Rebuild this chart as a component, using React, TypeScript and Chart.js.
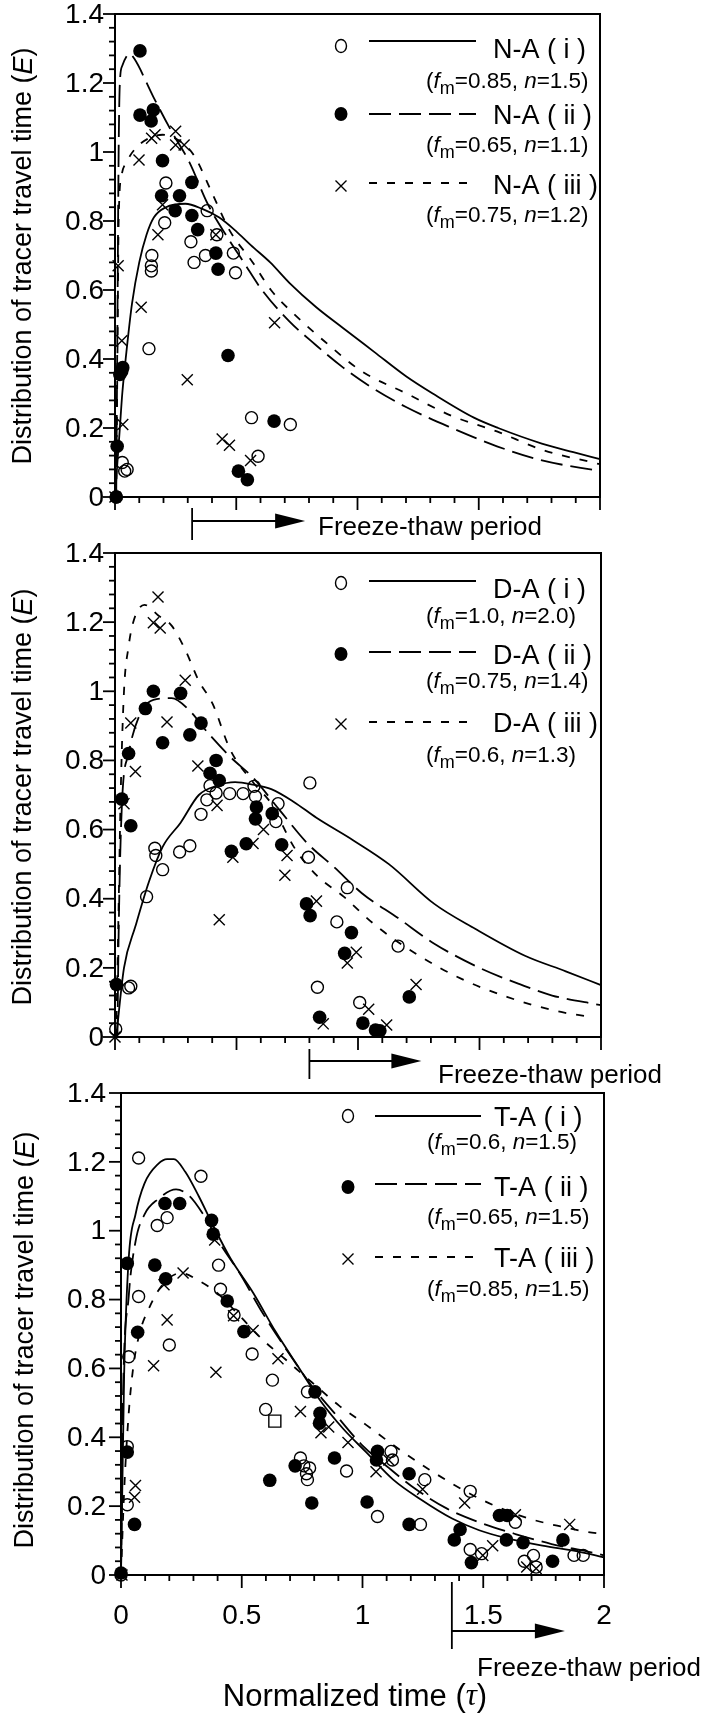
import React, { useEffect, useRef } from 'react';
import { Chart, registerables } from 'chart.js';

Chart.register(...registerables);

const SANS = '"Liberation Sans", Arial, Helvetica, sans-serif';
const SERIF = '"Liberation Serif", "DejaVu Serif", serif';

type Pt = [number, number];

// ---------- tick labels ----------
const yTickValues = [0, 0.2, 0.4, 0.6, 0.8, 1.0, 1.2, 1.4];
const yTickLabels = ['0', '0.2', '0.4', '0.6', '0.8', '1', '1.2', '1.4'];
const xTickValues = [0, 0.5, 1, 1.5, 2];
const xTickLabels = ['0', '0.5', '1', '1.5', '2'];

// ---------- series names / parameters ----------
const naNames = ['N-A ( i )', 'N-A ( ii )', 'N-A ( iii )'];
const naParams = [['0.85', '1.5'], ['0.65', '1.1'], ['0.75', '1.2']];
const daNames = ['D-A ( i )', 'D-A ( ii )', 'D-A ( iii )'];
const daParams = [['1.0', '2.0'], ['0.75', '1.4'], ['0.6', '1.3']];
const taNames = ['T-A ( i )', 'T-A ( ii )', 'T-A ( iii )'];
const taParams = [['0.6', '1.5'], ['0.65', '1.5'], ['0.85', '1.5']];
const freezeStartTau = [0.318, 0.8, 1.37];

// ---------- N-A ----------
const na1Curve: Pt[] = [[0, 0], [0.01, 0.1], [0.02, 0.2], [0.03, 0.3], [0.047, 0.42], [0.07, 0.56], [0.1, 0.68], [0.13, 0.76], [0.16, 0.81], [0.21, 0.84], [0.29, 0.85], [0.36, 0.835], [0.43, 0.81], [0.5, 0.77], [0.56, 0.73], [0.64, 0.68], [0.72, 0.62], [0.83, 0.55], [0.94, 0.49], [1.07, 0.42], [1.2, 0.35], [1.31, 0.3], [1.48, 0.23], [1.58, 0.2], [1.76, 0.155], [1.89, 0.13], [2.0, 0.11]];
const na2Curve: Pt[] = [[0.005, 0], [0.01, 0.5], [0.015, 1.0], [0.02, 1.2], [0.03, 1.25], [0.05, 1.28], [0.06, 1.285], [0.08, 1.27], [0.158, 1.16], [0.233, 1.06], [0.307, 0.97], [0.382, 0.85], [0.457, 0.76], [0.531, 0.68], [0.606, 0.6], [0.718, 0.51], [0.829, 0.44], [0.941, 0.375], [1.053, 0.32], [1.202, 0.26], [1.389, 0.2], [1.575, 0.147], [1.761, 0.106], [2.0, 0.075]];
const na3Curve: Pt[] = [[0.005, 0], [0.01, 0.4], [0.015, 0.8], [0.028, 0.935], [0.047, 0.97], [0.084, 1.01], [0.14, 1.04], [0.196, 1.05], [0.27, 1.03], [0.326, 0.99], [0.401, 0.88], [0.475, 0.77], [0.568, 0.68], [0.643, 0.6], [0.754, 0.52], [0.866, 0.45], [1.016, 0.365], [1.202, 0.3], [1.389, 0.235], [1.575, 0.19], [1.761, 0.137], [2.0, 0.095]];
const na1Obs: Pt[] = [[0.005, 0], [0.03, 0.1], [0.05, 0.08], [0.04, 0.075], [0.14, 0.43], [0.15, 0.655], [0.15, 0.67], [0.152, 0.7], [0.205, 0.795], [0.21, 0.91], [0.313, 0.74], [0.326, 0.68], [0.38, 0.83], [0.373, 0.7], [0.42, 0.76], [0.488, 0.707], [0.497, 0.65], [0.563, 0.23], [0.59, 0.118], [0.723, 0.21]];
const na2Obs: Pt[] = [[0.005, 0], [0.009, 0.147], [0.02, 0.355], [0.028, 0.365], [0.032, 0.375], [0.103, 1.293], [0.103, 1.107], [0.158, 1.122], [0.149, 1.09], [0.196, 0.975], [0.192, 0.873], [0.248, 0.83], [0.266, 0.873], [0.317, 0.912], [0.317, 0.816], [0.341, 0.775], [0.416, 0.707], [0.425, 0.66], [0.466, 0.41], [0.656, 0.22], [0.509, 0.075], [0.546, 0.05]];
const na3Obs: Pt[] = [[0, 0], [0.013, 0.67], [0.028, 0.453], [0.032, 0.21], [0.099, 0.977], [0.108, 0.55], [0.151, 1.04], [0.165, 1.05], [0.177, 0.76], [0.196, 0.847], [0.25, 1.06], [0.25, 1.02], [0.285, 1.02], [0.298, 0.34], [0.416, 0.76], [0.442, 0.168], [0.472, 0.15], [0.559, 0.106], [0.658, 0.505]];

// ---------- D-A ----------
const da1Curve: Pt[] = [[0.005, 0], [0.037, 0.2], [0.084, 0.32], [0.14, 0.45], [0.196, 0.55], [0.27, 0.62], [0.345, 0.7], [0.42, 0.727], [0.494, 0.737], [0.568, 0.73], [0.643, 0.717], [0.736, 0.68], [0.829, 0.634], [0.978, 0.57], [1.127, 0.5], [1.314, 0.385], [1.482, 0.313], [1.687, 0.235], [1.855, 0.19], [2.0, 0.15]];
const da2Curve: Pt[] = [[0.01, 0], [0.015, 0.3], [0.028, 0.665], [0.056, 0.82], [0.103, 0.934], [0.158, 0.975], [0.233, 0.98], [0.307, 0.944], [0.382, 0.88], [0.475, 0.81], [0.568, 0.75], [0.68, 0.654], [0.792, 0.56], [0.904, 0.49], [1.016, 0.416], [1.165, 0.344], [1.314, 0.27], [1.5, 0.2], [1.668, 0.152], [1.799, 0.12], [2.0, 0.092]];
const da3Curve: Pt[] = [[0.005, 0], [0.013, 0.3], [0.024, 0.72], [0.037, 1.0], [0.056, 1.13], [0.075, 1.2], [0.121, 1.25], [0.177, 1.22], [0.233, 1.19], [0.289, 1.12], [0.345, 1.03], [0.401, 0.965], [0.475, 0.83], [0.568, 0.737], [0.643, 0.675], [0.736, 0.55], [0.829, 0.468], [0.941, 0.406], [1.072, 0.323], [1.24, 0.24], [1.426, 0.168], [1.613, 0.116], [1.817, 0.075], [1.948, 0.059]];
const da1Obs: Pt[] = [[0.003, 0.023], [0.056, 0.142], [0.065, 0.147], [0.13, 0.406], [0.164, 0.546], [0.168, 0.525], [0.196, 0.484], [0.266, 0.535], [0.308, 0.553], [0.354, 0.644], [0.378, 0.686], [0.391, 0.727], [0.416, 0.706], [0.472, 0.704], [0.527, 0.704], [0.572, 0.725], [0.578, 0.696], [0.671, 0.675], [0.662, 0.623], [0.802, 0.735], [0.796, 0.52], [0.833, 0.144], [0.956, 0.432], [0.913, 0.333], [1.165, 0.263], [1.007, 0.1]];
const da2Obs: Pt[] = [[0.006, 0.152], [0.028, 0.688], [0.065, 0.611], [0.056, 0.82], [0.125, 0.95], [0.158, 1.0], [0.196, 0.851], [0.27, 0.994], [0.308, 0.874], [0.354, 0.908], [0.416, 0.8], [0.391, 0.763], [0.429, 0.742], [0.479, 0.537], [0.54, 0.559], [0.582, 0.665], [0.578, 0.631], [0.647, 0.646], [0.686, 0.556], [0.788, 0.385], [0.803, 0.351], [0.973, 0.302], [0.945, 0.242], [0.842, 0.057], [1.02, 0.04], [1.072, 0.02], [1.09, 0.018], [1.211, 0.116]];
const da3Obs: Pt[] = [[0, 0], [0.037, 0.675], [0.065, 0.908], [0.084, 0.768], [0.158, 1.198], [0.177, 1.273], [0.186, 1.183], [0.214, 0.911], [0.289, 1.032], [0.341, 0.784], [0.42, 0.67], [0.429, 0.339], [0.485, 0.52], [0.568, 0.56], [0.611, 0.6], [0.708, 0.525], [0.699, 0.468], [0.829, 0.393], [0.993, 0.245], [0.956, 0.214], [0.857, 0.038], [1.044, 0.08], [1.118, 0.035], [1.239, 0.152]];

// ---------- T-A ----------
const ta1Curve: Pt[] = [[0, 0], [0.013, 0.583], [0.032, 0.92], [0.06, 1.047], [0.097, 1.137], [0.154, 1.194], [0.191, 1.208], [0.219, 1.208], [0.266, 1.171], [0.322, 1.1], [0.378, 1.02], [0.453, 0.92], [0.547, 0.82], [0.64, 0.707], [0.734, 0.605], [0.828, 0.504], [0.921, 0.424], [1.015, 0.357], [1.127, 0.277], [1.24, 0.22], [1.371, 0.164], [1.483, 0.13], [1.596, 0.107], [1.745, 0.085], [1.895, 0.068], [2.0, 0.051]];
const ta2Curve: Pt[] = [[0, 0], [0.007, 0.47], [0.032, 0.81], [0.06, 0.968], [0.097, 1.047], [0.154, 1.092], [0.228, 1.12], [0.285, 1.1], [0.341, 1.047], [0.416, 0.956], [0.491, 0.877], [0.584, 0.764], [0.678, 0.662], [0.79, 0.549], [0.884, 0.47], [0.996, 0.379], [1.109, 0.311], [1.221, 0.249], [1.352, 0.192], [1.483, 0.153], [1.633, 0.119], [1.783, 0.09], [1.933, 0.068], [2.0, 0.057]];
const ta3Curve: Pt[] = [[0, 0], [0.013, 0.243], [0.032, 0.47], [0.051, 0.605], [0.079, 0.707], [0.116, 0.775], [0.172, 0.843], [0.247, 0.877], [0.322, 0.855], [0.397, 0.82], [0.491, 0.753], [0.584, 0.685], [0.678, 0.628], [0.79, 0.56], [0.903, 0.492], [1.015, 0.436], [1.146, 0.368], [1.277, 0.306], [1.427, 0.243], [1.558, 0.198], [1.689, 0.164], [1.82, 0.141], [1.933, 0.125], [2.0, 0.119]];
const ta1Obs: Pt[] = [[0, 0], [0.026, 0.204], [0.026, 0.373], [0.032, 0.634], [0.073, 0.809], [0.073, 1.211], [0.15, 1.015], [0.191, 1.038], [0.2, 0.668], [0.331, 1.158], [0.404, 0.9], [0.412, 0.83], [0.468, 0.755], [0.543, 0.642], [0.627, 0.566], [0.599, 0.481], [0.772, 0.532], [0.743, 0.34], [0.757, 0.317], [0.768, 0.294], [0.772, 0.277], [0.781, 0.311], [0.934, 0.302], [1.062, 0.17], [1.118, 0.359], [1.124, 0.334], [1.258, 0.277], [1.24, 0.147], [1.446, 0.243], [1.446, 0.074], [1.493, 0.062], [1.633, 0.153], [1.67, 0.04], [1.708, 0.057], [1.719, 0.023], [1.876, 0.057], [1.914, 0.057]];
const ta2Obs: Pt[] = [[0, 0.006], [0.026, 0.905], [0.026, 0.357], [0.056, 0.147], [0.069, 0.705], [0.14, 0.9], [0.182, 1.079], [0.185, 0.86], [0.243, 1.079], [0.375, 1.03], [0.382, 0.99], [0.44, 0.796], [0.509, 0.707], [0.616, 0.275], [0.721, 0.317], [0.79, 0.209], [0.803, 0.532], [0.824, 0.47], [0.822, 0.441], [0.884, 0.34], [1.019, 0.212], [1.062, 0.359], [1.058, 0.334], [1.193, 0.294], [1.193, 0.147], [1.38, 0.102], [1.404, 0.132], [1.451, 0.036], [1.567, 0.173], [1.599, 0.173], [1.596, 0.102], [1.665, 0.094], [1.787, 0.04], [1.83, 0.102]];
const ta3Obs: Pt[] = [[0.004, 0], [0.06, 0.26], [0.056, 0.226], [0.135, 0.608], [0.191, 0.741], [0.178, 0.843], [0.257, 0.877], [0.393, 0.589], [0.388, 0.973], [0.466, 0.753], [0.547, 0.71], [0.65, 0.628], [0.743, 0.475], [0.828, 0.413], [0.86, 0.43], [0.94, 0.385], [1.056, 0.3], [1.109, 0.334], [1.249, 0.249], [1.423, 0.209], [1.498, 0.057], [1.539, 0.085], [1.633, 0.175], [1.68, 0.023], [1.719, 0.019], [1.858, 0.147]];
const taSquareObs: Pt[] = [[0.637, 0.447]];

// ---------- layout (positions/styles only) ----------
type Legend = { symX: number; lineX1: number; lineX2: number; labelX: number; paramX: number; labelY: number[]; symY: number[]; lineY: number[]; paramY: number[] };
type Spec = {
  area: { left: number; top: number; right: number; bottom: number };
  curves: Pt[][]; obs: Pt[][]; square?: Pt[];
  names: string[]; params: string[][];
  legend: Legend; yLabelRight: number; titleX: number; titleY: number;
  freezeTau: number; freeze: { y1: number; y2: number; arrowY: number; len: number; textX: number; textY: number };
  xLabels: boolean;
};

const PANELS: Spec[] = [
  {
    area: { left: 115, top: 14, right: 600, bottom: 497 },
    curves: [na1Curve, na2Curve, na3Curve], obs: [na1Obs, na2Obs, na3Obs],
    names: naNames, params: naParams,
    legend: { symX: 341, lineX1: 369, lineX2: 476, labelX: 493, paramX: 426, labelY: [50, 116, 186], symY: [46, 114, 186], lineY: [41, 114, 183], paramY: [82, 146, 216] },
    yLabelRight: 104, titleX: 24, titleY: 256,
    freezeTau: freezeStartTau[0], freeze: { y1: 508, y2: 540, arrowY: 521, len: 113, textX: 318, textY: 528 },
    xLabels: false,
  },
  {
    area: { left: 115, top: 553, right: 601, bottom: 1037 },
    curves: [da1Curve, da2Curve, da3Curve], obs: [da1Obs, da2Obs, da3Obs],
    names: daNames, params: daParams,
    legend: { symX: 341, lineX1: 369, lineX2: 476, labelX: 493, paramX: 426, labelY: [590, 656, 724], symY: [583, 654, 724], lineY: [581, 652, 722], paramY: [617, 682, 756] },
    yLabelRight: 104, titleX: 24, titleY: 797,
    freezeTau: freezeStartTau[1], freeze: { y1: 1049, y2: 1079, arrowY: 1061, len: 112, textX: 438, textY: 1076 },
    xLabels: false,
  },
  {
    area: { left: 121, top: 1093, right: 604, bottom: 1575 },
    curves: [ta1Curve, ta2Curve, ta3Curve], obs: [ta1Obs, ta2Obs, ta3Obs], square: taSquareObs,
    names: taNames, params: taParams,
    legend: { symX: 348, lineX1: 375, lineX2: 481, labelX: 494, paramX: 427, labelY: [1118, 1188, 1259], symY: [1116, 1187, 1259], lineY: [1116, 1184, 1257], paramY: [1143, 1218, 1290] },
    yLabelRight: 106, titleX: 26, titleY: 1340,
    freezeTau: freezeStartTau[2], freeze: { y1: 1582, y2: 1649, arrowY: 1631, len: 113, textX: 477, textY: 1669 },
    xLabels: true,
  },
];

const DASHES: number[][] = [[], [22, 8], [8, 10]];
const KINDS = ['open', 'filled', 'cross'];

function drawMarker(ctx: CanvasRenderingContext2D, kind: string, x: number, y: number) {
  ctx.save();
  ctx.setLineDash([]);
  ctx.strokeStyle = '#000';
  ctx.fillStyle = '#000';
  ctx.lineWidth = 1.4;
  ctx.beginPath();
  if (kind === 'open') {
    ctx.ellipse(x, y, 5.5, 6.5, 0, 0, Math.PI * 2);
    ctx.stroke();
  } else if (kind === 'filled') {
    ctx.ellipse(x, y, 6.5, 7, 0, 0, Math.PI * 2);
    ctx.fill();
  } else {
    const s = 5.5;
    ctx.moveTo(x - s, y - s); ctx.lineTo(x + s, y + s);
    ctx.moveTo(x + s, y - s); ctx.lineTo(x - s, y + s);
    ctx.stroke();
  }
  ctx.restore();
}

type Part = { text: string; font: string; dy?: number };
function drawRich(ctx: CanvasRenderingContext2D, parts: Part[], x: number, y: number, align: 'left' | 'center') {
  let total = 0;
  for (const p of parts) { ctx.font = p.font; total += ctx.measureText(p.text).width; }
  let cx = align === 'center' ? x - total / 2 : x;
  ctx.textAlign = 'left';
  for (const p of parts) {
    ctx.font = p.font;
    ctx.fillText(p.text, cx, y + (p.dy || 0));
    cx += ctx.measureText(p.text).width;
  }
}

function line(ctx: CanvasRenderingContext2D, x1: number, y1: number, x2: number, y2: number) {
  ctx.beginPath(); ctx.moveTo(x1, y1); ctx.lineTo(x2, y2); ctx.stroke();
}

function drawDecor(chart: any, spec: Spec) {
  const ctx: CanvasRenderingContext2D = chart.ctx;
  const a = chart.chartArea;
  const xs = chart.scales.x;
  const ys = chart.scales.y;
  ctx.save();
  ctx.strokeStyle = '#000';
  ctx.fillStyle = '#000';
  ctx.setLineDash([]);
  // frame
  ctx.lineWidth = 2;
  ctx.strokeRect(a.left, a.top, a.right - a.left, a.bottom - a.top);
  // y ticks
  ctx.lineWidth = 1.8;
  for (let i = 0; i <= 35; i++) {
    const py = ys.getPixelForValue(i * 0.04);
    const major = i % 5 === 0;
    line(ctx, a.left - (major ? 12 : 6), py, a.left, py);
  }
  // x ticks
  for (let i = 0; i <= 20; i++) {
    const px = xs.getPixelForValue(i * 0.1);
    const major = i % 5 === 0;
    line(ctx, px, a.bottom, px, a.bottom + (major ? 13 : 6));
  }
  // y labels
  ctx.font = `28px ${SANS}`;
  ctx.textAlign = 'right';
  ctx.textBaseline = 'middle';
  yTickValues.forEach((v, i) => {
    ctx.fillText(yTickLabels[i], spec.yLabelRight, ys.getPixelForValue(v) + 1);
  });
  // x labels
  if (spec.xLabels) {
    ctx.textAlign = 'center';
    xTickValues.forEach((v, i) => {
      ctx.fillText(xTickLabels[i], xs.getPixelForValue(v), 1616);
    });
    ctx.textBaseline = 'middle';
    drawRich(ctx, [
      { text: 'Normalized time (', font: `31px ${SANS}` },
      { text: 'τ', font: `italic 31px ${SERIF}` },
      { text: ')', font: `31px ${SANS}` },
    ], 355, 1697, 'center');
  }
  // y title
  ctx.save();
  ctx.translate(spec.titleX, spec.titleY);
  ctx.rotate(-Math.PI / 2);
  ctx.textBaseline = 'middle';
  drawRich(ctx, [
    { text: 'Distribution of tracer travel time (', font: `27px ${SANS}` },
    { text: 'E', font: `italic 27px ${SANS}` },
    { text: ')', font: `27px ${SANS}` },
  ], 0, 0, 'center');
  ctx.restore();
  // legend
  const L = spec.legend;
  for (let i = 0; i < 3; i++) {
    drawMarker(ctx, KINDS[i], L.symX, L.symY[i]);
    ctx.save();
    ctx.lineWidth = 1.8;
    ctx.setLineDash(DASHES[i]);
    line(ctx, L.lineX1, L.lineY[i], L.lineX2, L.lineY[i]);
    ctx.restore();
    ctx.textBaseline = 'middle';
    ctx.textAlign = 'left';
    ctx.font = `27px ${SANS}`;
    ctx.fillText(spec.names[i], L.labelX, L.labelY[i] + 1);
    drawRich(ctx, [
      { text: '(', font: `22.5px ${SANS}` },
      { text: 'f', font: `italic 22.5px ${SANS}` },
      { text: 'm', font: `18px ${SANS}`, dy: 7 },
      { text: '=' + spec.params[i][0] + ', ', font: `22.5px ${SANS}` },
      { text: 'n', font: `italic 22.5px ${SANS}` },
      { text: '=' + spec.params[i][1] + ')', font: `22.5px ${SANS}` },
    ], L.paramX, L.paramY[i], 'left');
  }
  // freeze-thaw
  const F = spec.freeze;
  const bx = xs.getPixelForValue(spec.freezeTau);
  ctx.lineWidth = 1.8;
  line(ctx, bx, F.y1, bx, F.y2);
  const tip = bx + F.len;
  line(ctx, bx, F.arrowY, tip - 28, F.arrowY);
  ctx.beginPath();
  ctx.moveTo(tip - 30, F.arrowY - 7.5);
  ctx.lineTo(tip, F.arrowY);
  ctx.lineTo(tip - 30, F.arrowY + 7.5);
  ctx.closePath();
  ctx.fill();
  ctx.font = `26px ${SANS}`;
  ctx.textAlign = 'left';
  ctx.textBaseline = 'middle';
  ctx.fillText('Freeze-thaw period', F.textX, F.textY);
  ctx.restore();
}

const toXY = (pts: Pt[]) => pts.map(([x, y]) => ({ x, y }));

function buildConfig(spec: Spec): any {
  const datasets: any[] = [];
  const markerStyle = [
    { pointStyle: 'circle', pointRadius: 6, pointBackgroundColor: 'rgba(0,0,0,0)', pointBorderWidth: 1.4 },
    { pointStyle: 'circle', pointRadius: 6.8, pointBackgroundColor: '#000', pointBorderWidth: 0 },
    { pointStyle: 'crossRot', pointRadius: 7.8, pointBackgroundColor: '#000', pointBorderWidth: 1.4 },
  ];
  spec.obs.forEach((pts, i) => {
    datasets.push({ data: toXY(pts), showLine: false, pointBorderColor: '#000', clip: false, ...markerStyle[i] });
  });
  if (spec.square) {
    datasets.push({ data: toXY(spec.square), showLine: false, pointStyle: 'rect', pointRadius: 8.5, pointBorderColor: '#000', pointBackgroundColor: 'rgba(0,0,0,0)', pointBorderWidth: 1.4, clip: false });
  }
  spec.curves.forEach((pts, i) => {
    datasets.push({ data: toXY(pts), showLine: true, borderColor: '#000', borderWidth: 1.8, borderDash: DASHES[i], pointRadius: 0, cubicInterpolationMode: 'monotone', fill: false, clip: false });
  });
  const a = spec.area;
  return {
    type: 'scatter',
    data: { datasets },
    options: {
      animation: false,
      responsive: false,
      maintainAspectRatio: false,
      devicePixelRatio: 1,
      events: [],
      layout: { padding: { left: a.left, top: a.top, right: 708 - a.right, bottom: 1715 - a.bottom } },
      scales: {
        x: { type: 'linear', min: 0, max: 2, display: false },
        y: { type: 'linear', min: 0, max: 1.4, display: false },
      },
      plugins: { legend: { display: false }, tooltip: { enabled: false } },
    },
    plugins: [{ id: 'decor', beforeDatasetsDraw: (chart: any) => drawDecor(chart, spec) }],
  };
}

export default function App() {
  const r0 = useRef<HTMLCanvasElement>(null);
  const r1 = useRef<HTMLCanvasElement>(null);
  const r2 = useRef<HTMLCanvasElement>(null);
  const refs = [r0, r1, r2];
  useEffect(() => {
    const charts = PANELS.map((spec, i) => new Chart(refs[i].current as HTMLCanvasElement, buildConfig(spec)));
    return () => charts.forEach((c) => c.destroy());
  }, []);
  return (
    <div style={{ position: 'absolute', left: 0, top: 0, width: 708, height: 1715, background: '#fff', overflow: 'hidden' }}>
      {refs.map((r, i) => (
        <canvas key={i} ref={r} width={708} height={1715} style={{ position: 'absolute', left: 0, top: 0, width: 708, height: 1715 }} />
      ))}
    </div>
  );
}
